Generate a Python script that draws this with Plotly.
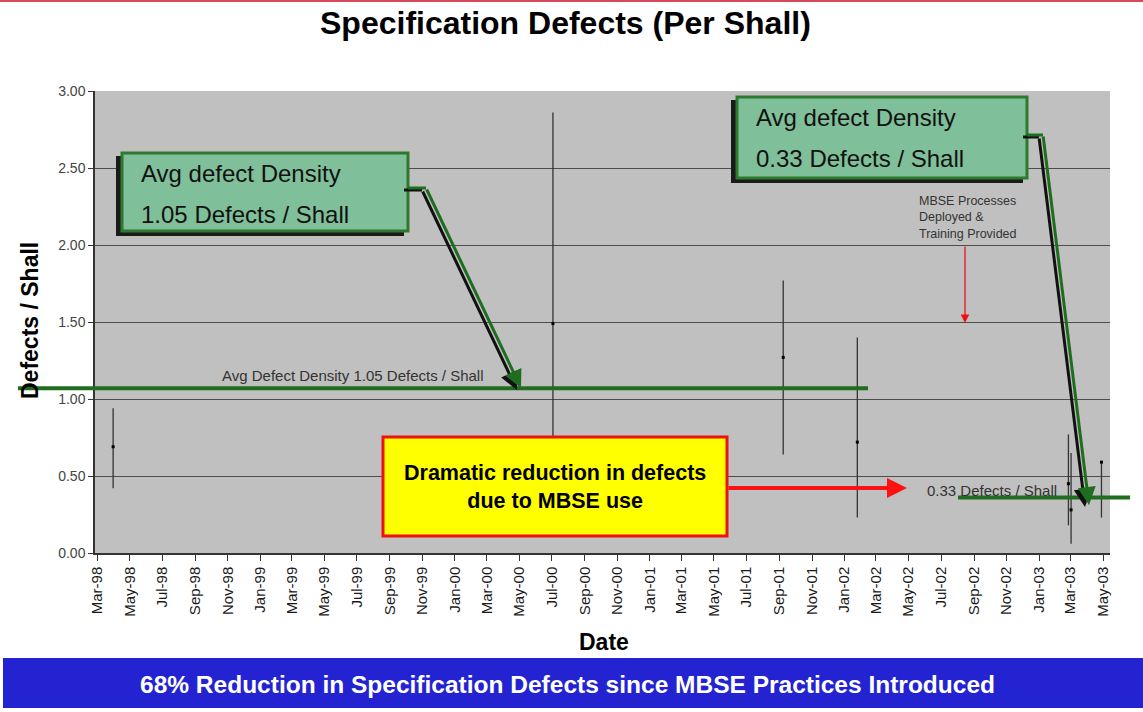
import plotly.graph_objects as go

dates = ["1998-03-31", "2000-07-03", "2001-09-08", "2002-01-25",
         "2003-02-25", "2003-03-02", "2003-04-28"]
high = [0.94, 2.86, 1.77, 1.40, 0.77, 0.65, 0.59]
low = [0.42, 0.12, 0.64, 0.23, 0.18, 0.06, 0.23]
close = [0.69, 1.49, 1.27, 0.72, 0.45, 0.28, 0.59]

avg_before = 1.07
avg_after = 0.36

W, H = 1143, 712
L, R, T, B = 95, 1110, 91, 553


def px(x):
    return (x - L) / (R - L)


def py(y):
    return (B - y) / (B - T)


fig = go.Figure()
fig.add_trace(go.Scatter(
    x=dates, y=close, mode="markers",
    marker=dict(symbol="square", size=3, color="black"),
    error_y=dict(type="data", symmetric=False,
                 array=[h - c for h, c in zip(high, close)],
                 arrayminus=[c - lo for c, lo in zip(close, low)],
                 width=0, thickness=1.3, color="#333333"),
    hoverinfo="x+y",
))

shapes = []
annotations = []


def label(text, x, y, size, color="black", xanchor="center", **kw):
    annotations.append(dict(text=text, xref="paper", yref="paper", x=px(x), y=py(y),
                            xanchor=xanchor, yanchor="middle", showarrow=False,
                            font=dict(family="Liberation Sans, Arial", size=size,
                                      color=color), **kw))


# top red rule and bottom blue banner
shapes.append(dict(type="line", xref="paper", yref="paper", x0=px(0), x1=px(W),
                   y0=py(1), y1=py(1), line=dict(color="#d8485a", width=2)))
shapes.append(dict(type="rect", xref="paper", yref="paper", x0=px(3), x1=px(W),
                   y0=py(658), y1=py(708), fillcolor="#2323d2", line=dict(width=0),
                   layer="above"))

# average lines
green = "#1f6e1f"
shapes.append(dict(type="line", xref="paper", yref="y", x0=px(18), x1=px(868),
                   y0=avg_before, y1=avg_before, line=dict(color=green, width=4)))
shapes.append(dict(type="line", xref="paper", yref="y", x0=px(958), x1=px(1130),
                   y0=avg_after, y1=avg_after, line=dict(color=green, width=4)))


def callout(x0, y0, x1, y1, line1, line2):
    shapes.append(dict(type="rect", xref="paper", yref="paper",
                       x0=px(x0 - 6), x1=px(x1 - 4), y0=py(y1 + 5), y1=py(y0 + 3),
                       fillcolor="#1a1a1a", line=dict(width=0)))
    shapes.append(dict(type="rect", xref="paper", yref="paper",
                       x0=px(x0), x1=px(x1), y0=py(y1), y1=py(y0),
                       fillcolor="#7fbf9a", line=dict(color="#2d7a2d", width=3)))
    label(line1, x0 + 17, y0 + 20, 24, "#111111", xanchor="left")
    label(line2, x0 + 17, y0 + 61, 24, "#111111", xanchor="left")


def elbow_arrow(xa, ya, xb, xt, yt):
    # horizontal stub then diagonal arrow to tip, green over black shadow
    for dx, dy, col in [(-4, 2, "#111111"), (0, 0, green)]:
        shapes.append(dict(type="path", xref="paper", yref="paper",
                           path=f"M {px(xa + dx)},{py(ya + dy)} L {px(xb + dx)},{py(ya + dy)}",
                           line=dict(color=col, width=3)))
        annotations.append(dict(x=px(xt + dx), y=py(yt + dy), xref="paper", yref="paper",
                                ax=(xb - xt), ay=(ya - yt), axref="pixel", ayref="pixel",
                                showarrow=True, arrowhead=2, arrowsize=1.2,
                                arrowwidth=3, arrowcolor=col, text=""))


callout(122, 153, 408, 231, "Avg defect Density", "1.05 Defects / Shall")
elbow_arrow(408, 188, 426, 521, 388)
callout(737, 97, 1027, 178, "Avg defect Density", "0.33 Defects / Shall")
elbow_arrow(1027, 135, 1043, 1089, 505)

# yellow box
shapes.append(dict(type="rect", xref="paper", yref="paper", x0=px(383), x1=px(727),
                   y0=py(536), y1=py(437), fillcolor="#ffff00",
                   line=dict(color="#ee1111", width=3)))
label("<b>Dramatic reduction in defects<br>due to MBSE use</b>", 555, 487, 21.5,
      align="center")
annotations.append(dict(x=px(907), y=py(488), xref="paper", yref="paper",
                        ax=727 - 907, ay=0, showarrow=True, arrowhead=2, arrowsize=1,
                        arrowwidth=4, arrowcolor="#ff1111", text=""))

# MBSE note
label("MBSE Processes<br>Deployed &amp;<br>Training Provided", 917, 217, 12.5,
      "#333333", xanchor="left", align="left")
annotations.append(dict(x=px(965), y=py(323), xref="paper", yref="paper",
                        ax=0, ay=245 - 323, showarrow=True, arrowhead=2, arrowsize=1.3,
                        arrowwidth=1.3, arrowcolor="#ee1111", text=""))

# line labels
label("Avg Defect Density 1.05 Defects / Shall", 220, 375, 15, "#333333", xanchor="left")
label("0.33 Defects / Shall", 925, 490, 15, "#333333", xanchor="left")

# titles
label("<b>Specification Defects (Per Shall)</b>", 565, 23, 32)
label("<b>Date</b>", 604, 642, 23)
label("<b>Defects / Shall</b>", 30, 321, 23, textangle=-90)
label("<b>68% Reduction in Specification Defects since MBSE Practices Introduced</b>",
      567, 684, 24.5, "white")

fig.update_layout(
    width=W, height=H,
    margin=dict(l=L, r=W - R, t=T, b=H - B),
    paper_bgcolor="white", plot_bgcolor="#c0c0c0",
    showlegend=False,
    shapes=shapes, annotations=annotations,
    font=dict(family="Liberation Sans, Arial", color="black"),
)
fig.update_xaxes(
    type="date", range=["1998-02-25", "2003-05-14"],
    tick0="1998-03-01", dtick="M2", tickformat="%b-%y", tickangle=-90,
    ticks="outside", ticklen=6, tickcolor="#333333",
    showgrid=False, showline=True, linecolor="#333333", linewidth=1.5,
    tickfont=dict(size=15, color="#1a1a1a"),
)
fig.update_yaxes(
    range=[0, 3], dtick=0.5, tickformat=".2f",
    ticks="outside", ticklen=5, tickcolor="#333333",
    showgrid=True, gridcolor="#4d4d4d", gridwidth=1.2, zeroline=False,
    showline=True, linecolor="#333333", linewidth=1.5,
    tickfont=dict(size=14, color="#444444"),
)

fig.write_html("out.html", config={"displayModeBar": False},
               post_script="document.body.style.margin = '0';")
